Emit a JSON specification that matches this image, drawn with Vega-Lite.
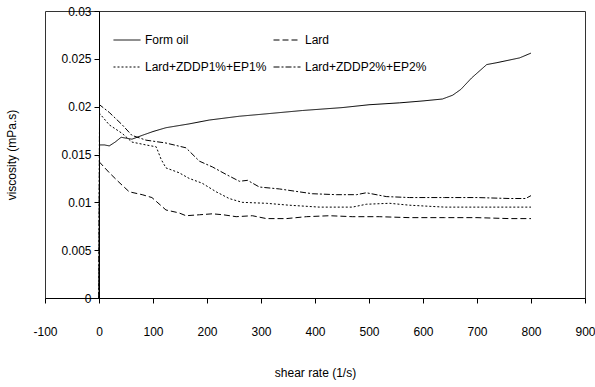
{
  "$schema": "https://vega.github.io/schema/vega-lite/v6.json",
  "width": 540,
  "height": 287,
  "autosize": "none",
  "padding": {"left": 45, "top": 11, "right": 10, "bottom": 89},
  "background": "white",
  "config": {
    "font": "Liberation Sans",
    "view": {"stroke": "#333", "strokeWidth": 1},
    "axis": {"labelFont": "Liberation Sans", "titleFont": "Liberation Sans", "labelFontSize": 12, "titleFontSize": 12, "titleFontWeight": "normal", "labelColor": "#000", "titleColor": "#000", "domainColor": "#000", "tickColor": "#000", "grid": false, "labelFlush": false, "labelOverlap": false, "tickSize": 5},
    "legend": {"labelFont": "Liberation Sans", "labelFontSize": 12, "labelColor": "#000"}
  },
  "data": {"values": [
    {"s": "Form oil", "x": 0, "y": 0}, {"s": "Form oil", "x": 1, "y": 0.0160}, {"s": "Form oil", "x": 10, "y": 0.0160}, {"s": "Form oil", "x": 19, "y": 0.0159}, {"s": "Form oil", "x": 30, "y": 0.0163}, {"s": "Form oil", "x": 41, "y": 0.0168}, {"s": "Form oil", "x": 61, "y": 0.0166}, {"s": "Form oil", "x": 80, "y": 0.0170}, {"s": "Form oil", "x": 100, "y": 0.0174}, {"s": "Form oil", "x": 124, "y": 0.0178}, {"s": "Form oil", "x": 167, "y": 0.0182}, {"s": "Form oil", "x": 204, "y": 0.0186}, {"s": "Form oil", "x": 260, "y": 0.0190}, {"s": "Form oil", "x": 300, "y": 0.0192}, {"s": "Form oil", "x": 377, "y": 0.0196}, {"s": "Form oil", "x": 450, "y": 0.0199}, {"s": "Form oil", "x": 500, "y": 0.0202}, {"s": "Form oil", "x": 557, "y": 0.0204}, {"s": "Form oil", "x": 600, "y": 0.0206}, {"s": "Form oil", "x": 636, "y": 0.0208}, {"s": "Form oil", "x": 655, "y": 0.0212}, {"s": "Form oil", "x": 670, "y": 0.0218}, {"s": "Form oil", "x": 690, "y": 0.0230}, {"s": "Form oil", "x": 718, "y": 0.0244}, {"s": "Form oil", "x": 737, "y": 0.0246}, {"s": "Form oil", "x": 779, "y": 0.0251}, {"s": "Form oil", "x": 800, "y": 0.0256},
    {"s": "Lard", "x": 0, "y": 0}, {"s": "Lard", "x": 1, "y": 0.0142}, {"s": "Lard", "x": 19, "y": 0.0131}, {"s": "Lard", "x": 37, "y": 0.0121}, {"s": "Lard", "x": 56, "y": 0.0111}, {"s": "Lard", "x": 80, "y": 0.0108}, {"s": "Lard", "x": 98, "y": 0.0105}, {"s": "Lard", "x": 124, "y": 0.0092}, {"s": "Lard", "x": 148, "y": 0.0089}, {"s": "Lard", "x": 161, "y": 0.0086}, {"s": "Lard", "x": 186, "y": 0.0087}, {"s": "Lard", "x": 210, "y": 0.0088}, {"s": "Lard", "x": 230, "y": 0.0087}, {"s": "Lard", "x": 254, "y": 0.0085}, {"s": "Lard", "x": 284, "y": 0.0086}, {"s": "Lard", "x": 310, "y": 0.0083}, {"s": "Lard", "x": 347, "y": 0.0083}, {"s": "Lard", "x": 384, "y": 0.0085}, {"s": "Lard", "x": 427, "y": 0.0086}, {"s": "Lard", "x": 469, "y": 0.0085}, {"s": "Lard", "x": 519, "y": 0.0085}, {"s": "Lard", "x": 575, "y": 0.0084}, {"s": "Lard", "x": 640, "y": 0.0084}, {"s": "Lard", "x": 700, "y": 0.0084}, {"s": "Lard", "x": 760, "y": 0.0083}, {"s": "Lard", "x": 800, "y": 0.0083},
    {"s": "Lard+ZDDP1%+EP1%", "x": 0, "y": 0}, {"s": "Lard+ZDDP1%+EP1%", "x": 1, "y": 0.0193}, {"s": "Lard+ZDDP1%+EP1%", "x": 19, "y": 0.0181}, {"s": "Lard+ZDDP1%+EP1%", "x": 43, "y": 0.0172}, {"s": "Lard+ZDDP1%+EP1%", "x": 61, "y": 0.0163}, {"s": "Lard+ZDDP1%+EP1%", "x": 87, "y": 0.0160}, {"s": "Lard+ZDDP1%+EP1%", "x": 106, "y": 0.0158}, {"s": "Lard+ZDDP1%+EP1%", "x": 115, "y": 0.0145}, {"s": "Lard+ZDDP1%+EP1%", "x": 124, "y": 0.0136}, {"s": "Lard+ZDDP1%+EP1%", "x": 148, "y": 0.0131}, {"s": "Lard+ZDDP1%+EP1%", "x": 167, "y": 0.0125}, {"s": "Lard+ZDDP1%+EP1%", "x": 191, "y": 0.0120}, {"s": "Lard+ZDDP1%+EP1%", "x": 217, "y": 0.0111}, {"s": "Lard+ZDDP1%+EP1%", "x": 241, "y": 0.0104}, {"s": "Lard+ZDDP1%+EP1%", "x": 265, "y": 0.0100}, {"s": "Lard+ZDDP1%+EP1%", "x": 310, "y": 0.0099}, {"s": "Lard+ZDDP1%+EP1%", "x": 352, "y": 0.0097}, {"s": "Lard+ZDDP1%+EP1%", "x": 408, "y": 0.0095}, {"s": "Lard+ZDDP1%+EP1%", "x": 469, "y": 0.0095}, {"s": "Lard+ZDDP1%+EP1%", "x": 495, "y": 0.0098}, {"s": "Lard+ZDDP1%+EP1%", "x": 538, "y": 0.0099}, {"s": "Lard+ZDDP1%+EP1%", "x": 575, "y": 0.0097}, {"s": "Lard+ZDDP1%+EP1%", "x": 640, "y": 0.0095}, {"s": "Lard+ZDDP1%+EP1%", "x": 700, "y": 0.0095}, {"s": "Lard+ZDDP1%+EP1%", "x": 800, "y": 0.0095},
    {"s": "Lard+ZDDP2%+EP2%", "x": 0, "y": 0}, {"s": "Lard+ZDDP2%+EP2%", "x": 1, "y": 0.0202}, {"s": "Lard+ZDDP2%+EP2%", "x": 19, "y": 0.0194}, {"s": "Lard+ZDDP2%+EP2%", "x": 43, "y": 0.0181}, {"s": "Lard+ZDDP2%+EP2%", "x": 61, "y": 0.0170}, {"s": "Lard+ZDDP2%+EP2%", "x": 87, "y": 0.0165}, {"s": "Lard+ZDDP2%+EP2%", "x": 124, "y": 0.0162}, {"s": "Lard+ZDDP2%+EP2%", "x": 161, "y": 0.0157}, {"s": "Lard+ZDDP2%+EP2%", "x": 186, "y": 0.0143}, {"s": "Lard+ZDDP2%+EP2%", "x": 210, "y": 0.0137}, {"s": "Lard+ZDDP2%+EP2%", "x": 236, "y": 0.0129}, {"s": "Lard+ZDDP2%+EP2%", "x": 260, "y": 0.0122}, {"s": "Lard+ZDDP2%+EP2%", "x": 275, "y": 0.0123}, {"s": "Lard+ZDDP2%+EP2%", "x": 297, "y": 0.0116}, {"s": "Lard+ZDDP2%+EP2%", "x": 334, "y": 0.0114}, {"s": "Lard+ZDDP2%+EP2%", "x": 395, "y": 0.0109}, {"s": "Lard+ZDDP2%+EP2%", "x": 440, "y": 0.0108}, {"s": "Lard+ZDDP2%+EP2%", "x": 477, "y": 0.0108}, {"s": "Lard+ZDDP2%+EP2%", "x": 495, "y": 0.0110}, {"s": "Lard+ZDDP2%+EP2%", "x": 532, "y": 0.0106}, {"s": "Lard+ZDDP2%+EP2%", "x": 575, "y": 0.0105}, {"s": "Lard+ZDDP2%+EP2%", "x": 640, "y": 0.0105}, {"s": "Lard+ZDDP2%+EP2%", "x": 700, "y": 0.0105}, {"s": "Lard+ZDDP2%+EP2%", "x": 760, "y": 0.0104}, {"s": "Lard+ZDDP2%+EP2%", "x": 790, "y": 0.0104}, {"s": "Lard+ZDDP2%+EP2%", "x": 800, "y": 0.0107}
  ]},
  "mark": {"type": "line", "color": "#000", "strokeWidth": 1, "clip": true},
  "encoding": {
    "x": {"field": "x", "type": "quantitative", "scale": {"domain": [-100, 900], "nice": false, "zero": false},
      "axis": {"title": "shear rate (1/s)", "values": [-100, 0, 100, 200, 300, 400, 500, 600, 700, 800, 900], "labelExpr": "'' + datum.value", "labelPadding": 23, "titlePadding": 30}},
    "y": {"field": "y", "type": "quantitative", "scale": {"domain": [0, 0.03], "nice": false},
      "axis": {"title": "viscosity (mPa.s)", "values": [0, 0.005, 0.01, 0.015, 0.02, 0.025, 0.03], "format": "~g", "offset": -54, "labelPadding": 3, "titlePadding": 42}},
    "strokeDash": {"field": "s", "type": "nominal",
      "scale": {"domain": ["Form oil", "Lard", "Lard+ZDDP1%+EP1%", "Lard+ZDDP2%+EP2%"], "range": [[1, 0], [6, 3], [2, 2], [6, 2, 2, 2]]},
      "legend": {"title": null, "orient": "none", "direction": "horizontal", "legendX": 68, "legendY": 15, "columns": 2, "columnPadding": 4, "rowPadding": 7, "padding": 0, "symbolType": "stroke", "symbolSize": 729, "symbolStrokeWidth": 1, "symbolStrokeColor": "#000", "labelOffset": 4}}
  }
}
